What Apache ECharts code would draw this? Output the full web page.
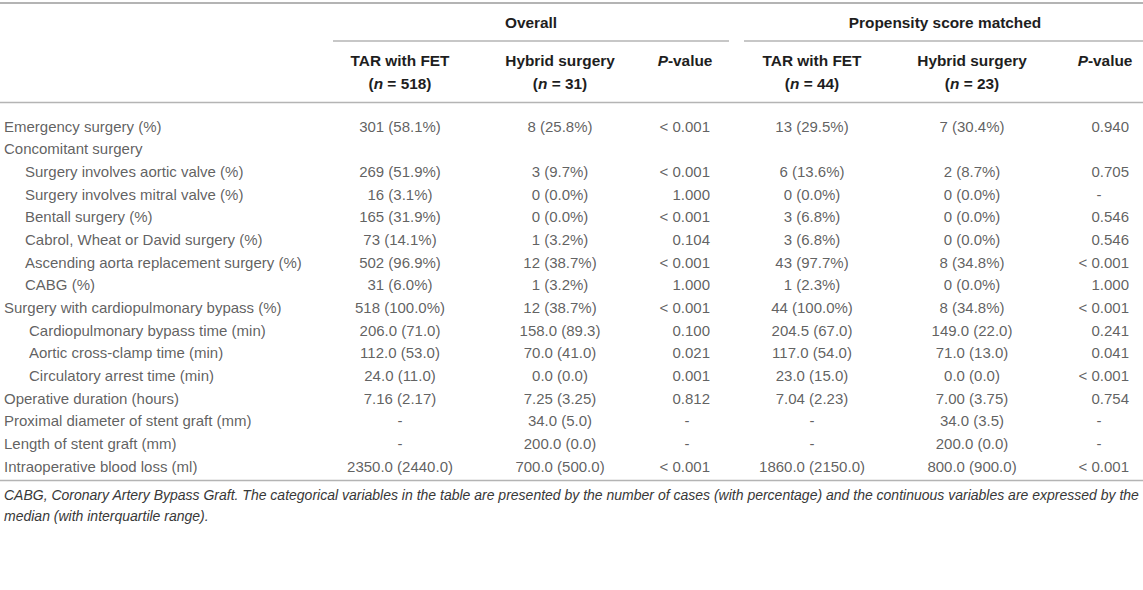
<!DOCTYPE html>
<html>
<head>
<meta charset="utf-8">
<script src="https://cdn.jsdelivr.net/npm/echarts@6/dist/echarts.min.js"></script>
<style>
html,body{margin:0;padding:0;background:#fff;}
#chart{width:1143px;height:590px;}
</style>
</head>
<body>
<div id="chart"></div>
<script>
// ---------------- DATA ----------------
const groupHeaders = ['Overall', 'Propensity score matched'];
const colHeaders = ['TAR with FET', 'Hybrid surgery', 'P-value', 'TAR with FET', 'Hybrid surgery', 'P-value'];
const colCounts = ['518', '31', '', '44', '23', ''];

const rowLabels = [
  'Emergency surgery (%)',
  'Concomitant surgery',
  'Surgery involves aortic valve (%)',
  'Surgery involves mitral valve (%)',
  'Bentall surgery (%)',
  'Cabrol, Wheat or David surgery (%)',
  'Ascending aorta replacement surgery (%)',
  'CABG (%)',
  'Surgery with cardiopulmonary bypass (%)',
  'Cardiopulmonary bypass time (min)',
  'Aortic cross-clamp time (min)',
  'Circulatory arrest time (min)',
  'Operative duration (hours)',
  'Proximal diameter of stent graft (mm)',
  'Length of stent graft (mm)',
  'Intraoperative blood loss (ml)'
];
const rowIndent = [0, 0, 1, 1, 1, 1, 1, 1, 0, 2, 2, 2, 0, 0, 0, 0];

const overallTAR = ['301 (58.1%)', '', '269 (51.9%)', '16 (3.1%)', '165 (31.9%)', '73 (14.1%)', '502 (96.9%)', '31 (6.0%)',
  '518 (100.0%)', '206.0 (71.0)', '112.0 (53.0)', '24.0 (11.0)', '7.16 (2.17)', '-', '-', '2350.0 (2440.0)'];
const overallHybrid = ['8 (25.8%)', '', '3 (9.7%)', '0 (0.0%)', '0 (0.0%)', '1 (3.2%)', '12 (38.7%)', '1 (3.2%)',
  '12 (38.7%)', '158.0 (89.3)', '70.0 (41.0)', '0.0 (0.0)', '7.25 (3.25)', '34.0 (5.0)', '200.0 (0.0)', '700.0 (500.0)'];
const overallP = ['< 0.001', '', '< 0.001', '1.000', '< 0.001', '0.104', '< 0.001', '1.000',
  '< 0.001', '0.100', '0.021', '0.001', '0.812', '-', '-', '< 0.001'];
const psmTAR = ['13 (29.5%)', '', '6 (13.6%)', '0 (0.0%)', '3 (6.8%)', '3 (6.8%)', '43 (97.7%)', '1 (2.3%)',
  '44 (100.0%)', '204.5 (67.0)', '117.0 (54.0)', '23.0 (15.0)', '7.04 (2.23)', '-', '-', '1860.0 (2150.0)'];
const psmHybrid = ['7 (30.4%)', '', '2 (8.7%)', '0 (0.0%)', '0 (0.0%)', '0 (0.0%)', '8 (34.8%)', '0 (0.0%)',
  '8 (34.8%)', '149.0 (22.0)', '71.0 (13.0)', '0.0 (0.0)', '7.00 (3.75)', '34.0 (3.5)', '200.0 (0.0)', '800.0 (900.0)'];
const psmP = ['0.940', '', '0.705', '-', '0.546', '0.546', '< 0.001', '1.000',
  '< 0.001', '0.241', '0.041', '< 0.001', '0.754', '-', '-', '< 0.001'];

const footnote = [
  'CABG, Coronary Artery Bypass Graft. The categorical variables in the table are presented by the number of cases (with percentage) and the continuous variables are expressed by the',
  'median (with interquartile range).'
];

// ---------------- LAYOUT ----------------
const W = 1143, H = 590;
const FONT = '"Liberation Sans", Arial, sans-serif';
const TXT = '#383838';
const HDR = '#1e1e1e';
const LINE = '#b4b4b4';
const indentX = [4, 25, 29];
const colLayout = [
  { x: 400, align: 'center' },
  { x: 560, align: 'center' },
  { x: 710, align: 'right', dashX: 687, hdrX: 685 },
  { x: 812, align: 'center' },
  { x: 972, align: 'center' },
  { x: 1129, align: 'right', dashX: 1099, hdrX: 1105 }
];
const columns = [overallTAR, overallHybrid, overallP, psmTAR, psmHybrid, psmP];

const rowTop = 114.7, rowH = 22.67;
const rowsBottom = H - (rowTop + rowH * rowLabels.length);

const chart = echarts.init(document.getElementById('chart'), null, { renderer: 'svg', width: W, height: H });

const labelStyleBase = { fontFamily: FONT, fontSize: 15, color: TXT };

const series = [];
series.push({
  type: 'scatter', symbolSize: 0, silent: true, animation: false,
  data: rowLabels.map((t, i) => ({
    value: [indentX[rowIndent[i]], i],
    label: { show: true, position: 'inside', align: 'left', verticalAlign: 'middle', formatter: t, ...labelStyleBase }
  }))
});
columns.forEach((col, c) => {
  const L = colLayout[c];
  series.push({
    type: 'scatter', symbolSize: 0, silent: true, animation: false,
    data: col.map((t, i) => {
      let x = L.x, al = L.align;
      if (L.dashX !== undefined && t === '-') { x = L.dashX; al = 'center'; }
      return {
        value: [x, i],
        label: { show: t !== '', position: 'inside', align: al, verticalAlign: 'middle', formatter: t || ' ', ...labelStyleBase }
      };
    })
  });
});

const graphics = [];
function hline(x1, x2, y, w) {
  graphics.push({ type: 'line', silent: true, shape: { x1, y1: y, x2, y2: y }, style: { stroke: LINE, lineWidth: w || 1.5 } });
}
hline(0, W, 3, 2);
hline(333, 729, 41, 1.5);
hline(744, W, 41, 1.5);
hline(0, W, 102.5, 1.5);
hline(0, W, 480.5, 1.5);

const HB = 15.4;
const hdrRich = {
  b: { fontFamily: FONT, fontSize: HB, fontWeight: 'bold', fill: HDR },
  bi: { fontFamily: FONT, fontSize: HB, fontWeight: 'bold', fontStyle: 'italic', fill: HDR }
};
function htext(x, y, text, align) {
  graphics.push({
    type: 'text', silent: true, x, y,
    style: { text, rich: hdrRich, align: align || 'center', verticalAlign: 'middle', font: 'bold ' + HB + 'px ' + FONT, fill: HDR }
  });
}
htext(531, 22, '{b|' + groupHeaders[0] + '}');
htext(945, 22, '{b|' + groupHeaders[1] + '}');
colHeaders.forEach((h, c) => {
  const L = colLayout[c];
  if (h === 'P-value') {
    htext(L.hdrX, 60, '{bi|P}{b|-value}');
  } else {
    htext(L.x, 60, '{b|' + h + '}');
    htext(L.x, 83, '{b|(}{bi|n}{b| = ' + colCounts[c] + ')}');
  }
});
footnote.forEach((t, i) => {
  graphics.push({
    type: 'text', silent: true, x: 4, y: 495 + i * 21,
    style: { text: t, align: 'left', verticalAlign: 'middle', font: 'italic 14px ' + FONT, fill: TXT }
  });
});

chart.setOption({
  animation: false,
  grid: { left: 0, right: 0, top: rowTop, bottom: rowsBottom },
  xAxis: { type: 'value', min: 0, max: W, show: false },
  yAxis: { type: 'category', data: rowLabels.map((_, i) => i), inverse: true, show: false },
  series,
  graphic: graphics
});
</script>
</body>
</html>
